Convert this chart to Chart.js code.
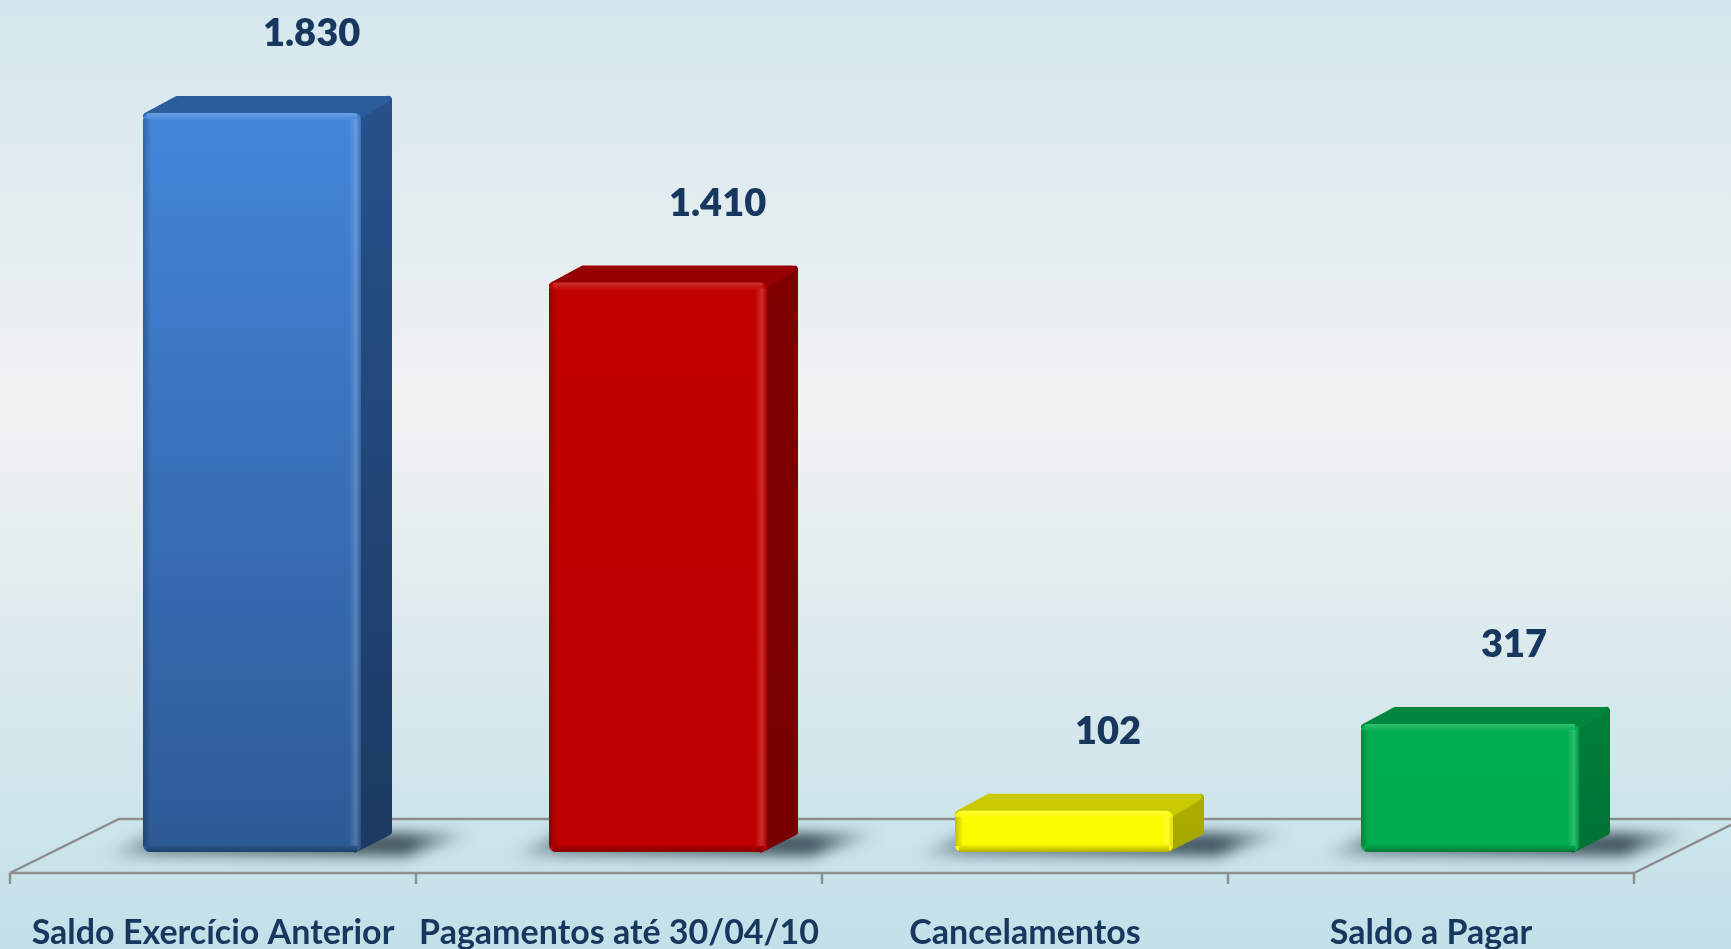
<!DOCTYPE html>
<html><head><meta charset="utf-8">
<script src="https://cdn.jsdelivr.net/npm/chart.js@4.4.1/dist/chart.umd.min.js"></script>
<style>html,body{margin:0;padding:0;overflow:hidden;background:#e6eef0}canvas{display:block}</style>
</head><body>
<canvas id="c" width="1731" height="949"></canvas>
<script>
// ---- data ----
const categories = ['Saldo Exercício Anterior', 'Pagamentos até 30/04/10', 'Cancelamentos', 'Saldo a Pagar'];
const values = [1830, 1410, 102, 317];

// ---- styles ----
const frontTop = ['#4486da', '#c40000', '#ffff00', '#00b551'];
const frontBottom = ['#2d5a96', '#be0000', '#fcfc00', '#00ad4e'];
const sideTop = ['#27518a', '#800000', '#acac00', '#007d3b'];
const sideBottom = ['#1c3a62', '#780000', '#a4a400', '#007336'];
const topCol = ['#2b5c9b', '#950000', '#caca00', '#00873d'];
const textCol = '#17375e';
const DX = 31, DY = 17;          // bar depth
const FLOOR_DX = 109, FLOOR_FRONT = 21, FLOOR_BACK = 33, SHIFT = 39;

function fmt(v) { return String(v).replace(/\B(?=(\d{3})+(?!\d))/g, '.'); }

const bar3d = {
  id: 'bar3d',
  beforeDraw(chart) {
    const c = chart.ctx, W = chart.width, H = chart.height;
    const g = c.createLinearGradient(0, 0, 0, H);
    g.addColorStop(0, '#d4e7ee');
    g.addColorStop(0.43, '#f1f2f2');
    g.addColorStop(1, '#c2e0e9');
    c.save(); c.fillStyle = g; c.fillRect(0, 0, W, H); c.restore();
  },
  beforeDatasetsDraw(chart) {
    const c = chart.ctx, xs = chart.scales.x, ys = chart.scales.y;
    const base = ys.getPixelForValue(0);
    const fy = base + FLOOR_FRONT, by = base - FLOOR_BACK;
    const fl = xs.left - SHIFT, fr = xs.right - SHIFT;
    c.save();
    c.strokeStyle = '#8e8e8e'; c.lineWidth = 2.5; c.lineCap = 'butt';
    c.beginPath();
    c.moveTo(fl, fy); c.lineTo(fr, fy);
    c.moveTo(fl, fy); c.lineTo(fl + FLOOR_DX, by); c.lineTo(fr + FLOOR_DX, by);
    c.moveTo(fr, fy); c.lineTo(fr + FLOOR_DX, by);
    const n = categories.length;
    for (let i = 0; i <= n; i++) {
      const x = fl + (fr - fl) * i / n;
      c.moveTo(x, fy); c.lineTo(x, fy + 11);
    }
    c.stroke();
    c.restore();

    const meta = chart.getDatasetMeta(0);
    // shadows
    meta.data.forEach((b) => {
      const l = b.x - b.width / 2, r = b.x + b.width / 2;
      c.save();
      c.filter = 'blur(7px)';
      const g = c.createLinearGradient(l - 45, 0, r + DX + 90, 0);
      g.addColorStop(0, 'rgba(60,80,90,0)');
      g.addColorStop(0.15, 'rgba(60,80,90,0.6)');
      g.addColorStop(0.8, 'rgba(45,65,75,0.9)');
      g.addColorStop(1, 'rgba(60,80,90,0)');
      c.fillStyle = g;
      c.beginPath();
      c.moveTo(l - 40, base + 4);
      c.lineTo(r + 45, base + 4);
      c.lineTo(r + DX + 85, base - DY - 2);
      c.lineTo(l + 10, base - DY - 2);
      c.closePath();
      c.fill();
      c.restore();
    });
    // side and top faces
    meta.data.forEach((b, i) => {
      const l = b.x - b.width / 2, r = b.x + b.width / 2, t = b.y, bt = b.base;
      c.save();
      c.lineJoin = 'round';
      // side
      const sg = c.createLinearGradient(0, t, 0, bt);
      sg.addColorStop(0, sideTop[i]); sg.addColorStop(1, sideBottom[i]);
      c.fillStyle = sg; c.strokeStyle = sg; c.lineWidth = 7;
      c.beginPath();
      c.moveTo(r - 6, t + 3); c.lineTo(r + DX - 3.5, t - DY + 3.5);
      c.lineTo(r + DX - 3.5, bt - DY - 3); c.lineTo(r - 6, bt - 3);
      c.closePath(); c.fill(); c.stroke();
      // top
      c.fillStyle = topCol[i]; c.strokeStyle = topCol[i];
      c.beginPath();
      c.moveTo(l + 3.5, t + 3); c.lineTo(l + DX + 3, t - DY + 3.5);
      c.lineTo(r + DX - 6, t - DY + 3.5); c.lineTo(r - 3, t + 3);
      c.closePath(); c.fill(); c.stroke();
      c.restore();
    });
  },
  afterDatasetsDraw(chart) {
    const c = chart.ctx;
    const meta = chart.getDatasetMeta(0);
    meta.data.forEach((b, i) => {
      const l = b.x - b.width / 2, r = b.x + b.width / 2, t = b.y, bt = b.base;
      c.save();
      // bevel highlights
      let g = c.createLinearGradient(l, 0, l + 8, 0);
      g.addColorStop(0, 'rgba(0,0,0,0.25)'); g.addColorStop(1, 'rgba(0,0,0,0)');
      c.fillStyle = g; c.fillRect(l, t + 6, 8, bt - t - 12);
      g = c.createLinearGradient(r - 12, 0, r, 0);
      g.addColorStop(0, 'rgba(255,255,255,0)'); g.addColorStop(0.6, 'rgba(255,255,255,0.18)'); g.addColorStop(1, 'rgba(0,0,0,0.1)');
      c.fillStyle = g; c.fillRect(r - 12, t + 6, 12, bt - t - 12);
      g = c.createLinearGradient(0, bt - 8, 0, bt);
      g.addColorStop(0, 'rgba(0,0,0,0)'); g.addColorStop(1, 'rgba(0,0,0,0.3)');
      c.fillStyle = g; c.fillRect(l + 4, bt - 8, b.width - 8, 8);
      g = c.createLinearGradient(0, t, 0, t + 8);
      g.addColorStop(0, 'rgba(255,255,255,0.2)'); g.addColorStop(1, 'rgba(255,255,255,0)');
      c.fillStyle = g; c.fillRect(l + 4, t, b.width - 8, 8);
      // value label
      c.fillStyle = textCol;
      c.font = '800 38px Lato';
      c.textAlign = 'left'; c.textBaseline = 'alphabetic';
      c.fillText(fmt(values[i]), l + 120, t - 67);
      c.restore();
    });
  }
};

new Chart(document.getElementById('c'), {
  type: 'bar',
  data: {
    labels: categories,
    datasets: [{
      data: values,
      backgroundColor: (ctx) => {
        const i = ctx.dataIndex, ch = ctx.chart, a = ch.chartArea;
        if (!a) return frontTop[i];
        const g = ch.ctx.createLinearGradient(0, a.top, 0, a.bottom);
        g.addColorStop(0, frontTop[i]); g.addColorStop(1, frontBottom[i]);
        return g;
      },
      borderWidth: 0,
      borderRadius: 7,
      borderSkipped: false,
      categoryPercentage: 1,
      barPercentage: 0.537
    }]
  },
  options: {
    responsive: false,
    animation: false,
    devicePixelRatio: 1,
    layout: { padding: { left: 49, right: 58, top: 113, bottom: 0 } },
    plugins: { legend: { display: false }, tooltip: { enabled: false } },
    scales: {
      x: {
        grid: { display: false, drawTicks: false },
        border: { display: false },
        ticks: {
          color: textCol,
          font: { family: 'Lato', size: 34, weight: 'bold' },
          padding: 61, labelOffset: -SHIFT,
          autoSkip: false, maxRotation: 0, minRotation: 0
        },
        afterFit: (s) => { s.height = 97; }
      },
      y: { display: false, min: 0, max: Math.max(...values) }
    }
  },
  plugins: [bar3d]
});
</script>
</body></html>
